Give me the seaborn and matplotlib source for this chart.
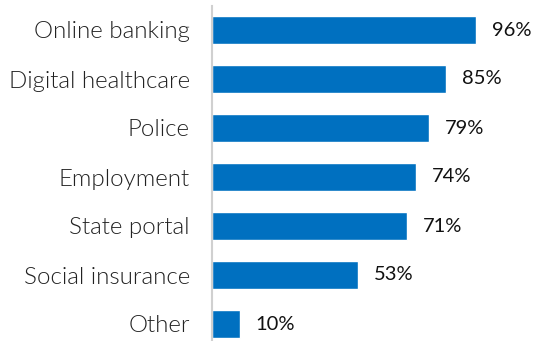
import matplotlib
matplotlib.use("Agg")
import matplotlib.pyplot as plt
import seaborn as sns
import pandas as pd

categories = ["Online banking", "Digital healthcare", "Police", "Employment",
              "State portal", "Social insurance", "Other"]
values = [96, 85, 79, 74, 71, 53, 10]
value_labels = ["96%", "85%", "79%", "74%", "71%", "53%", "10%"]

sns.set_style("white")
plt.rcParams["font.family"] = ["Lato", "DejaVu Sans"]

df = pd.DataFrame({"category": categories, "value": values})

fig = plt.figure(figsize=(5.36, 3.41), dpi=100)
ax = fig.add_axes([212 / 536, 0, 324 / 536, 335.5 / 341])

sns.barplot(data=df, x="value", y="category", color="#0070c0", saturation=1,
            width=0.58, ax=ax, orient="h")

for i, (v, lab) in enumerate(zip(values, value_labels)):
    ax.text(v + 5.8, i, lab, va="center", ha="left", fontsize=14.5, color="#111111")

ax.set_xlim(0, 324 / 2.75)
ax.set_ylim(-0.5 + 335.5 / 49, -0.5)
ax.set_xlabel("")
ax.set_ylabel("")
ax.set_xticks([])
ax.tick_params(axis="y", length=0, pad=16)
for t in ax.get_yticklabels():
    t.set_fontsize(17.4)
    t.set_fontweight(300)
    t.set_color("#222222")
for s in ["top", "right", "bottom"]:
    ax.spines[s].set_visible(False)
ax.spines["left"].set_color("#d0d0d0")
ax.spines["left"].set_linewidth(1.5)

fig.savefig("out.png", dpi=100)
